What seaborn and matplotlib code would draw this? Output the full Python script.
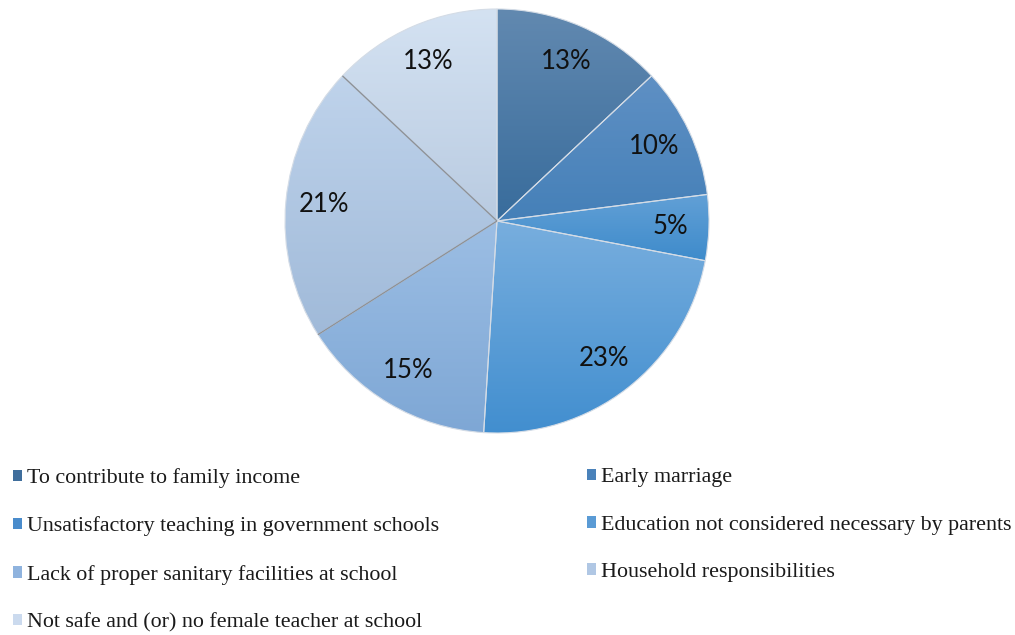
import numpy as np
import matplotlib
matplotlib.use("Agg")
import matplotlib.pyplot as plt
import seaborn as sns
from matplotlib.colors import LinearSegmentedColormap, to_rgb
from matplotlib.patches import Patch

sns.set_theme(style="white")

# Reasons girls leave school (share of responses, %)
reasons = [
    "To contribute to family income",
    "Early marriage",
    "Unsatisfactory teaching in government schools",
    "Education not considered necessary by parents",
    "Lack of proper sanitary facilities at school",
    "Household responsibilities",
    "Not safe and (or) no female teacher at school",
]
shares = [13, 10, 5, 23, 15, 21, 13]

# Per-slice vertical gradient: (top colour, bottom colour)
top_colors = ["#6289b0", "#5f90c4", "#62a0d6", "#78aede", "#9cbee4", "#bfd3eb", "#d4e2f2"]
bottom_colors = ["#386c9c", "#4580b8", "#3e8bcb", "#418ecf", "#7ea7d5", "#a0bad9", "#b9cbe1"]
legend_colors = ["#3f6e9c", "#4a82ba", "#4a8ccc", "#5a9bd5", "#8fb3de", "#b0c7e4", "#cbdaee"]

fig = plt.figure(figsize=(10.15, 6.35), dpi=100)
cx, cy, r = 497, 221, 212
ax = fig.add_axes([(cx - r) / 1015, (635 - cy - r) / 635, 2 * r / 1015, 2 * r / 635])

mid = [0.5 * (np.array(to_rgb(t)) + np.array(to_rgb(b))) for t, b in zip(top_colors, bottom_colors)]
wedges, _, autotexts = ax.pie(
    shares,
    colors=mid,
    startangle=90,
    counterclock=False,
    autopct=lambda p: f"{p:.0f}%",
    pctdistance=0.82,
    wedgeprops=dict(linewidth=0.8, edgecolor="#d4dce6"),
    textprops=dict(fontsize=18.5, family=["Lato", "DejaVu Sans"], color="#111111"),
)
ax.set_aspect("equal")
ax.axis("off")

# Fill each wedge with its own vertical gradient
for w, tc, bc in zip(wedges, top_colors, bottom_colors):
    pts = w.get_patch_transform().transform(w.get_path().vertices)
    x0, x1 = pts[:, 0].min(), pts[:, 0].max()
    y0, y1 = pts[:, 1].min(), pts[:, 1].max()
    cmap = LinearSegmentedColormap.from_list("g", [bc, tc])
    grad = np.linspace(0, 1, 256).reshape(-1, 1)
    im = ax.imshow(grad, cmap=cmap, extent=(x0, x1, y0, y1), origin="lower",
                   aspect="auto", zorder=w.get_zorder() + 0.1, interpolation="bilinear")
    im.set_clip_path(w)
    w.set_zorder(w.get_zorder() + 0.2)
    w.set_facecolor("none")

# Darker radial borders around the "Household responsibilities" slice
hw = wedges[5]
for ang in (hw.theta1, hw.theta2):
    a = np.deg2rad(ang)
    ax.plot([hw.center[0], hw.center[0] + hw.r * np.cos(a)],
            [hw.center[1], hw.center[1] + hw.r * np.sin(a)],
            color="#8c9198", lw=1.0, zorder=5, solid_capstyle="butt")

for t in autotexts:
    t.set_zorder(10)
ax.set_xlim(-1, 1)
ax.set_ylim(-1, 1)

# Two-column legend below the pie
serif = ["Liberation Serif", "DejaVu Serif"]
left_idx = [0, 2, 4, 6]
right_idx = [1, 3, 5]
for idx, xpos in ((left_idx, -2.3 / 1015), (right_idx, 571.7 / 1015)):
    handles = [Patch(facecolor=legend_colors[i], edgecolor="none") for i in idx]
    labels = [reasons[i] for i in idx]
    fig.legend(
        handles, labels, loc="upper left", bbox_to_anchor=(xpos, 1 - 453 / 635),
        frameon=False, handlelength=0.42, handleheight=0.42, handletextpad=0.23,
        labelspacing=1.29, borderaxespad=0.3,
        prop=dict(family=serif, size=15.8), labelcolor="#1a1a1a",
    )

fig.savefig("out.png", dpi=100, facecolor="white")
